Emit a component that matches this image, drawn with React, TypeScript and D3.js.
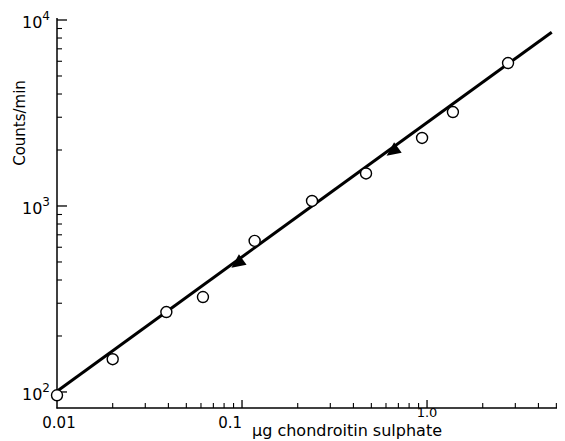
import React from 'react';
import * as d3 from 'd3';

// open circles
const circleX = [0.01, 0.02, 0.039, 0.0615, 0.117, 0.239, 0.468, 0.94, 1.38, 2.74];
const circleY = [96, 150, 269, 324, 649, 1064, 1496, 2322, 3200, 5870];
// filled triangles
const triX = [0.095, 0.655];
const triY = [494, 1975];
// fitted line end points
const lineX = [0.01, 4.72];
const lineY = [101, 8600];

const yMajor = [100, 1000, 10000];
const yMajorExp = ['2', '3', '4'];
const yMinor = [200, 300, 400, 500, 600, 700, 800, 900, 2000, 3000, 4000, 5000, 6000, 7000, 8000, 9000];
const xMajor = [0.1, 1];
const xMinor = [0.02, 0.03, 0.04, 0.05, 0.06, 0.07, 0.08, 0.09, 0.2, 0.3, 0.4, 0.5, 0.6, 0.7, 0.8, 0.9, 2, 3, 4, 5];

const width = 565;
const height = 441;
const font = '"DejaVu Sans", Verdana, sans-serif';

const x = d3.scaleLog().domain([0.01, 5.04]).range([57, 557]);
const y = d3.scaleLog().domain([82, 10000]).range([408, 20]);

export default function App() {
  const line = d3.line<number>()
    .x(d => x(lineX[d]))
    .y(d => y(lineY[d]));

  // arrowhead-like triangle pointing down-left along the line
  const angle = Math.atan2(y(lineY[0]) - y(lineY[1]), x(lineX[0]) - x(lineX[1])) * 180 / Math.PI;
  const triPath = 'M8,0 L-6,-6.5 L-6,6.5 Z';

  return (
    <div style={{ position: 'absolute', left: 0, top: 0 }}>
      <svg width={width} height={height} style={{ display: 'block', background: '#fff' }}>
        <g stroke="#000" fill="none">
          {/* axes */}
          <line x1={57} x2={57} y1={18} y2={408.5} strokeWidth={1.5} />
          <line x1={56.5} x2={557} y1={408} y2={408} strokeWidth={1.5} />
          {yMajor.map(v => <line key={'ym' + v} x1={57} x2={67} y1={y(v)} y2={y(v)} strokeWidth={1.3} />)}
          {yMinor.map(v => <line key={'yn' + v} x1={57} x2={62} y1={y(v)} y2={y(v)} strokeWidth={1.1} />)}
          {xMajor.map(v => <line key={'xm' + v} x1={x(v)} x2={x(v)} y1={408} y2={400} strokeWidth={1.3} />)}
          {xMinor.map(v => <line key={'xn' + v} x1={x(v)} x2={x(v)} y1={408} y2={403} strokeWidth={1.1} />)}
          {/* fitted line */}
          <path d={line([0, 1]) || ''} strokeWidth={3} />
          {circleX.map((v, i) => (
            <circle key={'c' + i} cx={x(v)} cy={y(circleY[i])} r={5.5} fill="#fff" strokeWidth={1.4} />
          ))}
        </g>
        {triX.map((v, i) => (
          <path key={'t' + i} d={triPath} fill="#000"
            transform={`translate(${x(v)},${y(triY[i])}) rotate(${angle})`} />
        ))}
        <g fontFamily={font} fill="#000">
          {yMajor.map((v, i) => (
            <text key={'yl' + v} x={50} y={y(v) + 8} textAnchor="end" fontSize={16}>
              10<tspan dy={-8} fontSize={12}>{yMajorExp[i]}</tspan>
            </text>
          ))}
          <text x={59} y={428} textAnchor="middle" fontSize={15}>0.01</text>
          <text x={242} y={428} textAnchor="end" fontSize={15}>0.1</text>
          <text x={427} y={417} textAnchor="middle" fontSize={13}>1.0</text>
          <text x={252} y={436} fontSize={16}>μg chondroitin sulphate</text>
          <text transform="translate(25,123) rotate(-90)" textAnchor="middle" fontSize={15}>Counts/min</text>
        </g>
      </svg>
    </div>
  );
}
